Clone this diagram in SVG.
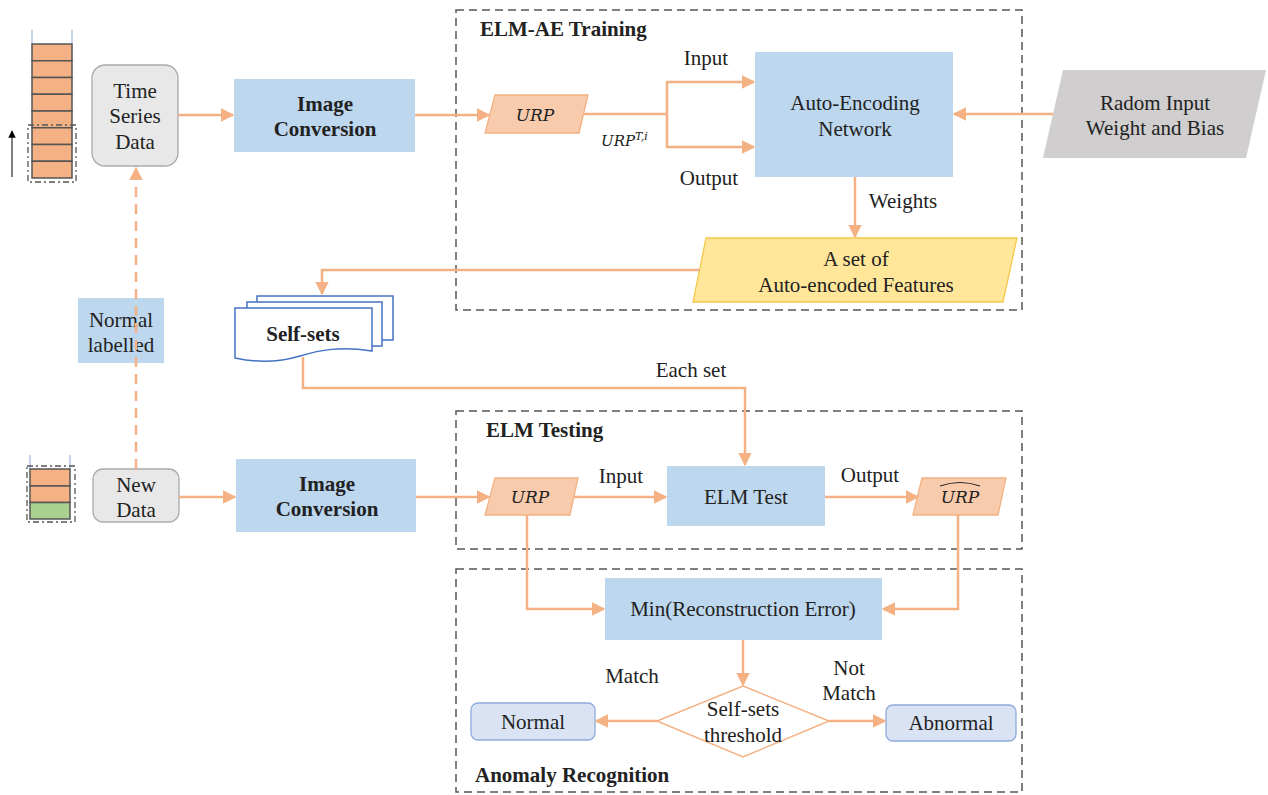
<svg xmlns="http://www.w3.org/2000/svg" width="1268" height="795" viewBox="0 0 1268 795">
<defs>
<marker id="ah" viewBox="0 0 10 10" refX="9" refY="5" markerWidth="5.5" markerHeight="5.5" orient="auto"><path d="M0,0 L10,5 L0,10 z" fill="#f4b183"/></marker>
<marker id="ahk" viewBox="0 0 10 10" refX="9" refY="5" markerWidth="5" markerHeight="5" orient="auto"><path d="M0,0 L10,5 L0,10 z" fill="#000"/></marker>
<style>
text{font-family:"Liberation Serif","Times New Roman",serif;fill:#222;font-size:21px}
.b{font-weight:bold}
.m{font-style:italic;font-family:"DejaVu Serif","Liberation Serif",serif;font-size:17px}
.c{stroke:#f4b183;stroke-width:2.5;fill:none}
.box{fill:#bdd7ee}
.grp{fill:none;stroke:#555;stroke-width:1.5;stroke-dasharray:8 5}
.cell{fill:#f4b183;stroke:#555;stroke-width:1.5}
.dd{fill:none;stroke:#555;stroke-width:1.3;stroke-dasharray:6 3 2 3}
</style>
</defs>
<rect width="1268" height="795" fill="#fff"/>

<g id="groups">
<rect class="grp" x="456" y="10" width="566" height="300"/>
<text class="b" x="480" y="36">ELM-AE Training</text>
<rect class="grp" x="456" y="411" width="566" height="138"/>
<text class="b" x="486" y="437">ELM Testing</text>
<rect class="grp" x="456" y="569" width="566" height="223"/>
<text class="b" x="475" y="782">Anomaly Recognition</text>
</g>

<g id="stack-top">
<line x1="32" y1="30" x2="32" y2="44" stroke="#8faadc" stroke-width="1"/>
<line x1="72" y1="30" x2="72" y2="44" stroke="#8faadc" stroke-width="1"/>
<rect class="cell" x="32" y="44" width="40" height="16.75"/>
<rect class="cell" x="32" y="60.75" width="40" height="16.75"/>
<rect class="cell" x="32" y="77.5" width="40" height="16.75"/>
<rect class="cell" x="32" y="94.25" width="40" height="16.75"/>
<rect class="cell" x="32" y="111" width="40" height="16.75"/>
<rect class="cell" x="32" y="127.75" width="40" height="16.75"/>
<rect class="cell" x="32" y="144.5" width="40" height="16.75"/>
<rect class="cell" x="32" y="161.25" width="40" height="16.75"/>
<rect class="dd" x="28" y="125" width="48" height="57"/>
<line x1="12" y1="177" x2="12" y2="131" stroke="#555" stroke-width="1.5" marker-end="url(#ahk)"/>
</g>

<g id="stack-bottom">
<line x1="30" y1="455" x2="30" y2="469" stroke="#8faadc" stroke-width="1"/>
<line x1="70" y1="455" x2="70" y2="469" stroke="#8faadc" stroke-width="1"/>
<rect class="cell" x="30" y="469" width="40" height="17"/>
<rect class="cell" x="30" y="486" width="40" height="16.5"/>
<rect class="cell" x="30" y="502.5" width="40" height="16.5" style="fill:#a9d18e"/>
<rect class="dd" x="27" y="466" width="48" height="56"/>
</g>

<g id="time-series">
<rect x="92" y="65" width="86" height="101" rx="13" fill="#e8e8e8" stroke="#aaa" stroke-width="1.3"/>
<text x="135" y="98" text-anchor="middle">Time</text>
<text x="135" y="123" text-anchor="middle">Series</text>
<text x="135" y="149" text-anchor="middle">Data</text>
</g>

<g id="new-data">
<rect x="93" y="469" width="86" height="53" rx="10" fill="#e8e8e8" stroke="#aaa" stroke-width="1.3"/>
<text x="136" y="492" text-anchor="middle">New</text>
<text x="136" y="517" text-anchor="middle">Data</text>
</g>

<g id="normal-labelled">
<rect class="box" x="78" y="298" width="86" height="65"/>
<text x="121" y="327" text-anchor="middle">Normal</text>
<text x="121" y="352" text-anchor="middle">labelled</text>
</g>

<g id="image-conv-1">
<rect class="box" x="234" y="79" width="181" height="73"/>
<text class="b" x="325" y="111" text-anchor="middle">Image</text>
<text class="b" x="325" y="136" text-anchor="middle">Conversion</text>
</g>

<g id="image-conv-2">
<rect class="box" x="236" y="459" width="180" height="73"/>
<text class="b" x="327" y="491" text-anchor="middle">Image</text>
<text class="b" x="327" y="516" text-anchor="middle">Conversion</text>
</g>

<g id="urp-1">
<polygon points="495,95 588,95 579,133 485,133" fill="#f8cbad" stroke="#f4b183" stroke-width="1.3"/>
<text class="m" x="535" y="121" text-anchor="middle">URP</text>
</g>

<g id="aen">
<rect class="box" x="755" y="52" width="198" height="125"/>
<text x="855" y="110" text-anchor="middle">Auto-Encoding</text>
<text x="855" y="136" text-anchor="middle">Network</text>
</g>

<g id="radom">
<polygon points="1063,70 1266,70 1246,158 1043,158" fill="#d0cece"/>
<text x="1155" y="110" text-anchor="middle">Radom Input</text>
<text x="1155" y="135" text-anchor="middle">Weight and Bias</text>
</g>

<g id="features">
<polygon points="706,238 1017,238 1003,302 693,302" fill="#ffe699" stroke="#f4c94c" stroke-width="1.3"/>
<text x="856" y="266" text-anchor="middle">A set of</text>
<text x="856" y="292" text-anchor="middle">Auto-encoded Features</text>
</g>

<g id="self-sets">
<path d="M257,296 H393 V340 H257 Z" fill="#fff" stroke="#4472c4" stroke-width="1.5"/>
<path d="M247,302 H382 V346 H247 Z" fill="#fff" stroke="#4472c4" stroke-width="1.5"/>
<path d="M235,308 H372 V351 C340,346 320,350 300,356 C280,362 258,363 235,358 Z" fill="#fff" stroke="#4472c4" stroke-width="1.5"/>
<text class="b" x="303" y="341" text-anchor="middle">Self-sets</text>
</g>

<g id="urp-2">
<polygon points="495,478 578,478 570,515 485,515" fill="#f8cbad" stroke="#f4b183" stroke-width="1.3"/>
<text class="m" x="530" y="503" text-anchor="middle">URP</text>
</g>

<g id="elm-test">
<rect class="box" x="667" y="466" width="158" height="60"/>
<text x="746" y="504" text-anchor="middle">ELM Test</text>
</g>

<g id="urp-hat">
<polygon points="922,478 1006,478 998,515 913,515" fill="#f8cbad" stroke="#f4b183" stroke-width="1.3"/>
<text class="m" x="960" y="503" text-anchor="middle">URP</text>
<path d="M940,486 Q960,479 980,486" fill="none" stroke="#222" stroke-width="1.2"/>
</g>

<g id="min-err">
<rect class="box" x="605" y="578" width="277" height="62"/>
<text x="743" y="616" text-anchor="middle">Min(Reconstruction Error)</text>
</g>

<g id="diamond">
<polygon points="743,686 829,721 743,757 657,721" fill="#fff" stroke="#f4b183" stroke-width="1.5"/>
<text x="743" y="716" text-anchor="middle">Self-sets</text>
<text x="743" y="742" text-anchor="middle">threshold</text>
</g>

<g id="normal">
<rect x="471" y="703" width="124" height="37" rx="7" fill="#dae3f3" stroke="#8faadc" stroke-width="1.3"/>
<text x="533" y="729" text-anchor="middle">Normal</text>
</g>

<g id="abnormal">
<rect x="886" y="705" width="130" height="36" rx="7" fill="#dae3f3" stroke="#8faadc" stroke-width="1.3"/>
<text x="951" y="730" text-anchor="middle">Abnormal</text>
</g>

<g id="connectors">
<line class="c" x1="136" y1="469" x2="136" y2="168" stroke-dasharray="10 7" marker-end="url(#ah)"/>
<line class="c" x1="178" y1="115" x2="233" y2="115" marker-end="url(#ah)"/>
<line class="c" x1="415" y1="115" x2="489" y2="115" marker-end="url(#ah)"/>
<polyline class="c" points="584,114 667,114 667,82 754,82" marker-end="url(#ah)"/>
<polyline class="c" points="667,114 667,147 754,147" marker-end="url(#ah)"/>
<line class="c" x1="1053" y1="114" x2="954" y2="114" marker-end="url(#ah)"/>
<line class="c" x1="855" y1="177" x2="855" y2="237" marker-end="url(#ah)"/>
<polyline class="c" points="700,270 322,270 322,294" marker-end="url(#ah)"/>
<polyline class="c" points="303,357 303,388 745,388 745,465" marker-end="url(#ah)"/>
<line class="c" x1="179" y1="497" x2="235" y2="497" marker-end="url(#ah)"/>
<line class="c" x1="416" y1="497" x2="489" y2="497" marker-end="url(#ah)"/>
<line class="c" x1="574" y1="497" x2="666" y2="497" marker-end="url(#ah)"/>
<line class="c" x1="825" y1="497" x2="918" y2="497" marker-end="url(#ah)"/>
<polyline class="c" points="527,515 527,609 604,609" marker-end="url(#ah)"/>
<polyline class="c" points="958,515 958,609 883,609" marker-end="url(#ah)"/>
<line class="c" x1="743" y1="640" x2="743" y2="685" marker-end="url(#ah)"/>
<line class="c" x1="657" y1="721" x2="596" y2="721" marker-end="url(#ah)"/>
<line class="c" x1="829" y1="721" x2="885" y2="721" marker-end="url(#ah)"/>
</g>

<g id="labels">
<text x="706" y="65" text-anchor="middle">Input</text>
<text x="709" y="185" text-anchor="middle">Output</text>
<text x="601" y="146" class="m" style="font-size:15px">URP<tspan dy="-6" style="font-size:11px">T,i</tspan></text>
<text x="903" y="208" text-anchor="middle">Weights</text>
<text x="691" y="377" text-anchor="middle">Each set</text>
<text x="621" y="483" text-anchor="middle">Input</text>
<text x="870" y="482" text-anchor="middle">Output</text>
<text x="632" y="683" text-anchor="middle">Match</text>
<text x="849" y="675" text-anchor="middle">Not</text>
<text x="849" y="700" text-anchor="middle">Match</text>
</g>
</svg>
